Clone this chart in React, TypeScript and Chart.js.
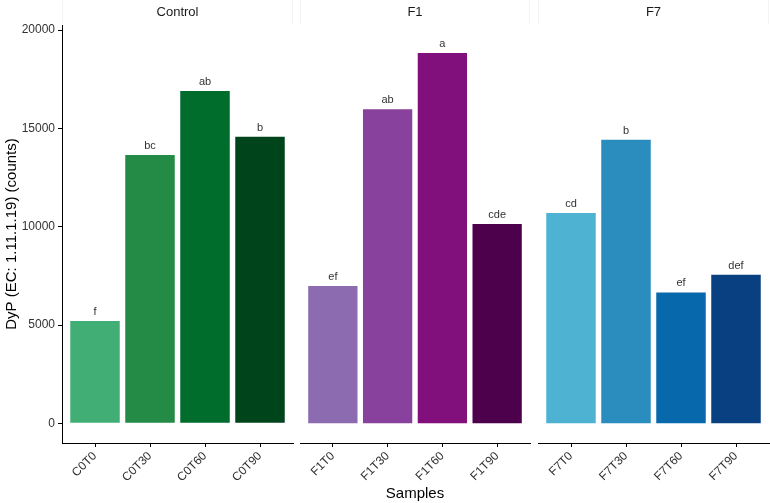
import { useEffect, useRef } from 'react';
import Chart from 'chart.js/auto';

// Datos
const controlLabels = ['C0T0', 'C0T30', 'C0T60', 'C0T90'];
const controlValues = [5200, 13650, 16900, 14580];
const controlLetters = ['f', 'bc', 'ab', 'b'];
const controlColors = ['#41ae76', '#238b45', '#006d2c', '#00441b'];

const f1Labels = ['F1T0', 'F1T30', 'F1T60', 'F1T90'];
const f1Values = [6980, 15970, 18840, 10140];
const f1Letters = ['ef', 'ab', 'a', 'cde'];
const f1Colors = ['#8c6bb1', '#88419d', '#810f7c', '#4d004b'];

const f7Labels = ['F7T0', 'F7T30', 'F7T60', 'F7T90'];
const f7Values = [10700, 14430, 6660, 7560];
const f7Letters = ['cd', 'b', 'ef', 'def'];
const f7Colors = ['#4eb3d3', '#2b8cbe', '#0868ac', '#084081'];

const yTicks = [0, 5000, 10000, 15000, 20000];
const yMin = -1000;
const yMax = 20260;

const FONT = "'Liberation Sans', Arial, sans-serif";

interface PanelProps {
  title: string;
  labels: string[];
  values: number[];
  letters: string[];
  colors: string[];
  showY: boolean;
  xTitle: string;
  left: number;
  width: number;
  padLeft: number;
  padRight: number;
}

const Panel = ({ title, labels, values, letters, colors, showY, xTitle, left, width, padLeft, padRight }: PanelProps) => {
  const chartRef = useRef<HTMLCanvasElement>(null);

  useEffect(() => {
    if (!chartRef.current) return;

    // Cabecera del panel (strip) y letras sobre las barras
    const panelPlugin = {
      id: 'panelDecor',
      afterDatasetsDraw(chart: Chart) {
        const { ctx, chartArea } = chart;
        ctx.save();
        ctx.strokeStyle = '#f4f4f4';
        ctx.lineWidth = 1;
        ctx.beginPath();
        ctx.moveTo(chartArea.left + 0.5, 0);
        ctx.lineTo(chartArea.left + 0.5, chartArea.top - 1);
        ctx.moveTo(chartArea.right - 0.5, 0);
        ctx.lineTo(chartArea.right - 0.5, chartArea.top - 1);
        ctx.stroke();
        ctx.fillStyle = '#1a1a1a';
        ctx.font = `13px ${FONT}`;
        ctx.textAlign = 'center';
        ctx.textBaseline = 'middle';
        ctx.fillText(title, (chartArea.left + chartArea.right) / 2, 12.5);

        ctx.font = `11px ${FONT}`;
        ctx.fillStyle = '#333333';
        ctx.textBaseline = 'alphabetic';
        chart.getDatasetMeta(0).data.forEach((bar, i) => {
          ctx.fillText(letters[i], bar.x, bar.y - 6);
        });
        ctx.restore();
      }
    };

    const chart = new Chart(chartRef.current, {
      type: 'bar',
      data: {
        datasets: [{
          data: values.map((v, i) => ({ x: i, y: v })),
          backgroundColor: colors,
          borderWidth: 0,
          barPercentage: 0.9,
          categoryPercentage: 1
        }]
      },
      options: {
        animation: false,
        responsive: true,
        maintainAspectRatio: false,
        events: [],
        layout: { padding: { top: 25, left: padLeft, right: padRight, bottom: 0 } },
        plugins: {
          legend: { display: false },
          tooltip: { enabled: false }
        },
        scales: {
          x: {
            type: 'linear',
            min: -0.6,
            max: 3.6,
            offset: false,
            afterBuildTicks: (s: any) => { s.ticks = labels.map((_, i) => ({ value: i })); },
            afterFit: (s: any) => { s.height = 60; },
            ticks: {
              callback: (v: any) => labels[v as number],
              minRotation: 45,
              maxRotation: 45,
              autoSkip: false,
              padding: 2,
              color: '#333333',
              font: { family: FONT, size: 12 }
            },
            grid: { offset: false, drawOnChartArea: false, drawTicks: true, tickLength: 4, color: '#000000' },
            border: { display: true, color: '#000000', width: 1 },
            title: {
              display: xTitle !== '',
              text: xTitle,
              color: '#000000',
              font: { family: FONT, size: 15 },
              padding: { top: 0, bottom: 0 }
            }
          },
          y: showY ? {
            min: yMin,
            max: yMax,
            afterBuildTicks: (s: any) => { s.ticks = yTicks.map(v => ({ value: v })); },
            afterFit: (s: any) => { s.width = 62; },
            ticks: {
              callback: (v: any) => String(v),
              padding: 3,
              color: '#333333',
              font: { family: FONT, size: 12 }
            },
            grid: { drawOnChartArea: false, drawTicks: true, tickLength: 4, color: '#000000' },
            border: { display: true, color: '#000000', width: 1 },
            title: {
              display: true,
              text: 'DyP (EC: 1.11.1.19) (counts)',
              color: '#000000',
              font: { family: FONT, size: 15 },
              padding: { top: 3, bottom: 0 }
            }
          } : {
            display: false,
            min: yMin,
            max: yMax
          }
        }
      },
      plugins: [panelPlugin]
    });

    return () => {
      chart.destroy();
    };
  }, []);

  return (
    <div style={{ position: 'absolute', left, top: 0, width, height: 503 }}>
      <canvas ref={chartRef}></canvas>
    </div>
  );
};

export default function App() {
  return (
    <div style={{ position: 'absolute', left: 0, top: 0, width: 770, height: 503, background: '#ffffff' }}>
      <Panel title="Control" labels={controlLabels} values={controlValues} letters={controlLetters}
        colors={controlColors} showY={true} xTitle="" left={0} width={296} padLeft={0} padRight={3} />
      <Panel title="F1" labels={f1Labels} values={f1Values} letters={f1Letters}
        colors={f1Colors} showY={false} xTitle="Samples" left={296} width={238} padLeft={4} padRight={4} />
      <Panel title="F7" labels={f7Labels} values={f7Values} letters={f7Letters}
        colors={f7Colors} showY={false} xTitle="" left={534} width={236} padLeft={4} padRight={1} />
    </div>
  );
}
